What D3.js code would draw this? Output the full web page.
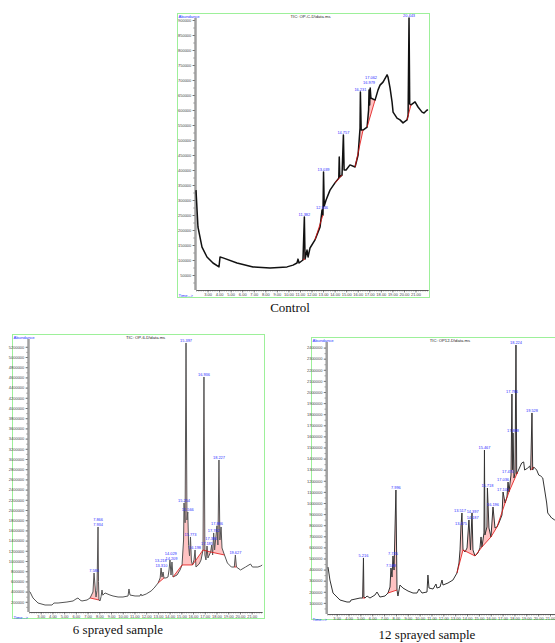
<!DOCTYPE html>
<html>
<head>
<meta charset="utf-8">
<script src="https://cdn.jsdelivr.net/npm/d3@7"></script>
<style>
  body { margin: 0; background: #fff; }
  svg { display: block; }
</style>
</head>
<body>
<svg id="chart" width="555" height="643"></svg>
<script>
// ---- data: [retention time (min), abundance] ----
var controlTrace = [[2.00,333000],[2.17,210000],[2.52,143000],[2.95,110000],[3.47,90000],[3.99,77000],[4.08,110000],[4.34,107000],
  [5.55,90000],[6.94,77000],[8.41,73000],[9.88,77000],[10.40,83000],[10.74,90000],[10.83,103000],[10.92,90000],[11.26,100000],
  [11.38,243000],[11.44,103000],[11.61,133000],[11.70,110000],[11.87,140000],[12.30,167000],[12.74,210000],[12.91,267000],
  [12.99,250000],[13.04,393000],[13.10,280000],[13.26,300000],[13.60,333000],[14.03,357000],[14.36,373000],[14.40,443000],
  [14.45,377000],[14.64,383000],[14.76,517000],[14.82,400000],[14.99,400000],[15.33,417000],[15.77,410000],[16.03,450000],
  [16.20,540000],[16.23,660000],[16.30,533000],[16.46,533000],[16.81,543000],[16.94,600000],[16.98,667000],[17.03,617000],
  [17.08,673000],[17.14,640000],[17.50,633000],[17.76,667000],[17.93,683000],[18.19,693000],[18.54,717000],[18.62,710000],
  [18.80,673000],[18.97,627000],[19.06,593000],[19.40,573000],[19.66,567000],[19.92,557000],[20.27,567000],[20.36,583000],
  [20.44,907000],[20.50,620000],[20.61,617000],[20.96,627000],[21.22,610000],[21.57,593000],[21.74,590000],[22.00,600000],[22.09,600000]];
var controlPeaks = [["11.382",11.38,243000],["12.946",12.91,267000],["13.039",13.04,393000],["14.757",14.76,517000],
  ["16.231",16.23,660000],["16.979",16.98,684000],["17.062",17.15,702000],["20.443",20.44,907000]];
var controlRed = [[11.26,11.44],[12.30,12.99],[14.03,14.64],[15.77,16.46],[16.81,17.50],[20.27,20.61]];
var controlYTicks = d3.range(1, 19).map(function (i) { return i * 50000; });

var sixTrace = [[2.05,400000],[2.09,392000],[2.34,275000],[2.77,176000],[3.37,137000],[3.96,137000],[4.13,176000],[4.48,176000],
  [5.24,196000],[5.76,216000],[6.01,255000],[6.18,275000],[6.35,235000],[6.52,216000],[6.95,235000],[7.21,275000],[7.46,392000],
  [7.55,765000],[7.63,529000],[7.72,294000],[7.80,420000],[7.89,1667000],[7.93,600000],[7.97,235000],[8.06,216000],[8.15,300000],
  [8.23,431000],[8.30,330000],[8.49,373000],[8.91,333000],[9.17,314000],[9.60,294000],[10.02,294000],[10.45,314000],[10.53,451000],
  [10.62,333000],[11.05,314000],[11.47,314000],[11.55,353000],[11.62,320000],[12.00,353000],[12.42,412000],[12.68,471000],
  [13.02,569000],[13.19,667000],[13.27,863000],[13.35,686000],[13.44,784000],[13.52,667000],[13.69,667000],[13.86,686000],
  [13.95,824000],[14.03,1020000],[14.12,725000],[14.20,980000],[14.29,686000],[14.63,725000],[14.89,824000],[15.06,922000],
  [15.19,1412000],[15.23,2137000],[15.32,1750000],[15.40,5275000],[15.48,1804000],[15.55,1961000],[15.62,1300000],[15.70,1100000],
  [15.78,1471000],[15.86,1000000],[15.95,922000],[16.08,1020000],[16.17,1216000],[16.25,882000],[16.52,941000],[16.68,1020000],
  [16.85,1216000],[16.93,4608000],[17.01,1118000],[17.10,1020000],[17.19,1294000],[17.27,1059000],[17.50,1176000],[17.59,1314000],
  [17.67,1118000],[17.76,1550000],[17.84,1216000],[18.04,1690000],[18.12,1314000],[18.21,2980000],[18.29,1412000],[18.39,1667000],
  [18.47,1255000],[18.68,1118000],[18.93,961000],[19.27,882000],[19.52,882000],[19.61,1118000],[19.70,882000],[20.05,824000],
  [20.48,882000],[20.90,941000],[21.07,882000],[21.53,882000],[21.78,902000],[21.90,922000]];
var sixPeaks = [["7.586",7.55,765000],["7.866",7.89,1760000],["7.934",7.89,1667000],["13.218",13.24,960000],["13.310",13.30,863000],
  ["14.029",14.10,1100000],["14.209",14.16,1000000],["15.254",15.23,2137000],["15.397",15.40,5275000],["15.566",15.55,1961000],
  ["15.773",15.78,1471000],["16.198",16.17,1216000],["16.936",16.93,4608000],["17.185",17.19,1294000],["17.386",17.55,1400000],
  ["17.762",17.76,1550000],["17.886",18.04,1690000],["18.227",18.21,2980000],["19.627",19.61,1118000]];
var sixRed = [[7.21,7.97],[13.02,13.52],[14.29,15.06],[15.06,15.95],[15.95,16.85],[16.85,17.50],[17.50,18.68],[19.52,19.70]];
var sixYTicks = d3.range(1, 27).map(function (i) { return i * 200000; });

var twelveTrace = [[2.27,423000],[2.43,306000],[2.69,189000],[3.28,126000],[3.87,108000],[4.12,108000],[4.21,126000],[4.97,144000],
  [5.19,144000],[5.26,505000],[5.30,153000],[5.39,144000],[5.56,162000],[5.81,144000],[6.23,171000],[6.40,198000],[6.65,153000],
  [7.08,162000],[7.33,189000],[7.50,243000],[7.58,414000],[7.67,333000],[7.75,523000],[7.84,396000],[8.00,1117000],[8.09,216000],
  [8.17,162000],[8.34,261000],[8.59,234000],[9.02,207000],[9.44,189000],[9.78,189000],[9.95,225000],[10.20,189000],[10.62,198000],
  [10.70,351000],[10.79,234000],[11.13,225000],[11.38,270000],[11.46,234000],[11.72,243000],[11.89,306000],[11.97,261000],
  [12.39,279000],[12.81,306000],[13.15,369000],[13.32,459000],[13.41,577000],[13.49,793000],[13.57,910000],[13.66,577000],
  [13.83,559000],[14.00,595000],[14.16,847000],[14.29,577000],[14.42,910000],[14.50,577000],[14.67,523000],[14.92,550000],
  [15.09,595000],[15.18,694000],[15.26,604000],[15.43,730000],[15.47,1477000],[15.51,712000],[15.68,784000],[15.72,1135000],
  [15.85,775000],[16.02,694000],[16.19,964000],[16.36,775000],[16.53,784000],[16.69,820000],[16.95,892000],[17.04,1099000],
  [17.21,1000000],[17.37,1054000],[17.46,1189000],[17.54,1100000],[17.71,1252000],[17.79,1982000],[17.84,1300000],[17.88,1631000],
  [17.96,1225000],[18.05,1270000],[18.13,2423000],[18.19,1260000],[18.27,1279000],[18.61,1360000],[18.78,1370000],[18.86,1297000],
  [19.12,1315000],[19.29,1333000],[19.37,1297000],[19.48,1811000],[19.54,1297000],[19.63,1324000],[19.88,1297000],[20.05,1252000],
  [20.22,1243000],[20.39,1225000],[20.55,1117000],[20.72,1000000],[20.81,910000],[21.14,865000],[21.40,847000],[21.60,840000]];
var twelvePeaks = [["5.216",5.26,505000],["7.588",7.58,414000],["7.745",7.75,523000],["7.996",8.00,1117000],["13.517",13.40,910000],
  ["13.475",13.49,793000],["14.187",14.47,850000],["14.397",14.47,900000],["15.467",15.47,1477000],["15.718",15.72,1135000],
  ["16.196",16.19,964000],["17.036",17.04,1190000],["17.105",17.04,1099000],["17.470",17.46,1265000],["17.786",17.79,1982000],
  ["17.888",17.88,1631000],["18.224",18.13,2423000],["19.528",19.48,1811000]];
var twelveRed = [[5.19,5.39],[7.33,8.09],[13.15,13.66],[13.66,14.67],[14.67,15.26],[15.26,16.02],[16.02,16.53],[16.53,17.21],
  [17.21,17.54],[17.54,18.27],[19.37,19.63]];
var twelveYTicks = d3.range(1, 25).map(function (i) { return i * 100000; });

var timeTicks = d3.range(3, 22);

// ---- layout ----
var panels = [
  { trace: controlTrace, peaks: controlPeaks, red: controlRed, yTicks: controlYTicks,
    title: 'TIC: OP-C-D\\data.ms', caption: 'Control', cap: [290, 312],
    frame: [177, 13, 252, 284], xDomain: [2, 22.1], xRange: [196, 428.2],
    yDomain: [0, 900000], yRange: [290, 20], line: '#111', lw: 1.5 },
  { trace: sixTrace, peaks: sixPeaks, red: sixRed, yTicks: sixYTicks,
    title: 'TIC: OP-6-D\\data.ms', caption: '6 sprayed sample', cap: [118, 634],
    frame: [12, 334, 252, 284], xDomain: [2, 21.9], xRange: [29, 262.2],
    yDomain: [0, 5200000], yRange: [612, 346.8], line: '#555', lw: 1 },
  { trace: twelveTrace, peaks: twelvePeaks, red: twelveRed, yTicks: twelveYTicks,
    title: 'TIC: OP12-D\\data.ms', caption: '12 sprayed sample', cap: [427, 639],
    frame: [311, 337, 262, 282], xDomain: [2.2, 21.6], xRange: [327.2, 557.1],
    yDomain: [0, 2400000], yRange: [614, 347.6], line: '#333', lw: 1 }
];

var svg = d3.select('#chart');
svg.append('rect').attr('width', 555).attr('height', 643).attr('fill', '#fff');

panels.forEach(drawPanel);

function drawPanel(p) {
  var g = svg.append('g');
  var f = p.frame;
  var x = d3.scaleLinear().domain(p.xDomain).range(p.xRange);
  var y = d3.scaleLinear().domain(p.yDomain).range(p.yRange);
  var y0 = p.yRange[0];

  // frame
  g.append('rect')
    .attr('x', f[0] + 0.5).attr('y', f[1] + 0.5)
    .attr('width', f[2]).attr('height', f[3])
    .attr('fill', 'none').attr('stroke', '#9df09a').attr('stroke-width', 1);

  g.append('text').attr('x', f[0] + 1.5).attr('y', f[1] + 5)
    .attr('font-family', 'Liberation Sans, Arial').attr('font-size', 4.2)
    .attr('fill', '#2233ff').text('Abundance');
  g.append('text').attr('x', f[0] + f[2] * 0.53).attr('y', f[1] + 5)
    .attr('text-anchor', 'middle')
    .attr('font-family', 'Liberation Sans, Arial').attr('font-size', 4.2)
    .attr('fill', '#222').text(p.title);
  g.append('text').attr('x', f[0] + 1.5).attr('y', y0 + 7)
    .attr('font-family', 'Liberation Sans, Arial').attr('font-size', 4.2)
    .attr('fill', '#2233ff').text('Time-->');

  // y axis bar
  g.append('line')
    .attr('x1', p.xRange[0] - 0.5).attr('x2', p.xRange[0] - 0.5)
    .attr('y1', y0).attr('y2', f[1] + 5)
    .attr('stroke', '#a0a0a0').attr('stroke-width', 2.5);

  var yMinor = d3.range(p.yTicks[0] / 2, p.yDomain[1] + 1, p.yTicks[0] / 2);
  g.append('g').attr('transform', 'translate(' + (p.xRange[0] - 1.5) + ',0)')
    .call(d3.axisLeft(y).tickValues(yMinor).tickSize(1.2).tickFormat(''))
    .call(function (a) { a.select('.domain').remove(); a.selectAll('line').attr('stroke', '#555').attr('stroke-width', 0.6); });
  g.append('g').attr('transform', 'translate(' + (p.xRange[0] - 1.5) + ',0)')
    .call(d3.axisLeft(y).tickValues(p.yTicks).tickSize(2).tickPadding(1.2).tickFormat(d3.format('d')))
    .call(function (a) {
      a.select('.domain').remove();
      a.selectAll('line').attr('stroke', '#444').attr('stroke-width', 0.6);
      a.selectAll('text').attr('font-family', 'Liberation Sans, Arial').attr('font-size', 4).attr('fill', '#444');
    });

  // x axis
  var xMinor = d3.range(Math.ceil(p.xDomain[0] * 5) / 5, p.xDomain[1], 0.2);
  g.append('g').attr('transform', 'translate(0,' + y0 + ')')
    .call(d3.axisBottom(x).tickValues(xMinor).tickSize(1.5).tickSizeOuter(0).tickFormat(''))
    .call(function (a) {
      a.select('.domain').attr('stroke', '#333').attr('stroke-width', 0.8);
      a.selectAll('line').attr('stroke', '#555').attr('stroke-width', 0.5);
    });
  g.append('g').attr('transform', 'translate(0,' + y0 + ')')
    .call(d3.axisBottom(x).tickValues(timeTicks).tickSize(2.5).tickPadding(1).tickFormat(d3.format('.2f')))
    .call(function (a) {
      a.select('.domain').remove();
      a.selectAll('line').attr('stroke', '#444').attr('stroke-width', 0.6);
      a.selectAll('text').attr('font-family', 'Liberation Sans, Arial').attr('font-size', 4).attr('fill', '#444');
    });

  // integration areas (red)
  var redBase = [];
  p.red.forEach(function (r) {
    var pts = p.trace.filter(function (d) { return d[0] >= r[0] - 1e-9 && d[0] <= r[1] + 1e-9; });
    if (pts.length < 2) return;
    var a = pts[0], b = pts[pts.length - 1];
    var base = function (t) { return a[1] + (b[1] - a[1]) * (t - a[0]) / (b[0] - a[0]); };
    g.append('path').datum(pts)
      .attr('d', d3.area().x(function (d) { return x(d[0]); })
        .y0(function (d) { return y(base(d[0])); })
        .y1(function (d) { return y(d[1]); }))
      .attr('fill', '#ff6a6a').attr('fill-opacity', 0.4).attr('stroke', 'none');
    redBase.push([a, b]);
  });

  // trace
  g.append('path').datum(p.trace)
    .attr('d', d3.line().x(function (d) { return x(d[0]); }).y(function (d) { return y(d[1]); }))
    .attr('fill', 'none').attr('stroke', p.line).attr('stroke-width', p.lw)
    .attr('stroke-linejoin', 'round');

  redBase.forEach(function (ab) {
    g.append('line')
      .attr('x1', x(ab[0][0])).attr('y1', y(ab[0][1]))
      .attr('x2', x(ab[1][0])).attr('y2', y(ab[1][1]))
      .attr('stroke', '#e01010').attr('stroke-width', 0.8);
  });

  // peak labels
  g.selectAll('.peakLabel').data(p.peaks).enter().append('text')
    .classed('peakLabel', true)
    .attr('x', function (d) { return x(d[1]); })
    .attr('y', function (d) { return y(d[2]) - 0.8; })
    .attr('text-anchor', 'middle')
    .attr('font-family', 'Liberation Sans, Arial').attr('font-size', 3.9)
    .attr('fill', '#2a2aff')
    .text(function (d) { return d[0]; });

  // caption
  svg.append('text').attr('x', p.cap[0]).attr('y', p.cap[1])
    .attr('text-anchor', 'middle')
    .attr('font-family', 'Liberation Serif, Times New Roman, serif').attr('font-size', 13)
    .attr('fill', '#111').text(p.caption);
}
</script>
</body>
</html>
